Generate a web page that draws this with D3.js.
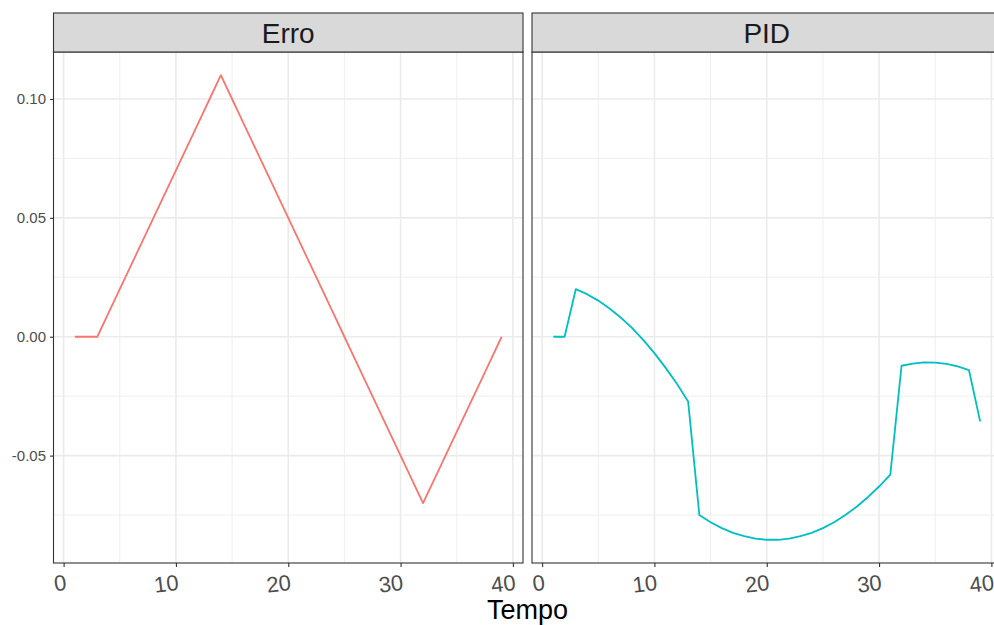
<!DOCTYPE html>
<head>
  <meta charset="utf-8">
  <script src="https://d3js.org/d3.v7.min.js"></script>
  <style>
    body{ margin: 0; background: #ffffff; }
    text{ font-family: "Liberation Sans", Arial, sans-serif; }
    .grid line.major{ stroke: #ebebeb; stroke-width: 1.6; }
    .grid line.minor{ stroke: #ebebeb; stroke-width: 0.8; }
    .yAxis text{ font-size: 15px; fill: #4d4d4d; }
    .xAxis text{ font-size: 22px; fill: #4d4d4d; }
    .tick line{ stroke: #333333; stroke-width: 1.1; }
    path.domain{ display: none; }
    text.strip{ font-size: 28px; fill: #1a1a1a; }
    text.axisTitle{ font-size: 27px; fill: #000000; }
  </style>
</head>
<body>
  <script>
    // data
    const tempo = [1,2,3,4,5,6,7,8,9,10,11,12,13,14,15,16,17,18,19,20,
                   21,22,23,24,25,26,27,28,29,30,31,32,33,34,35,36,37,38,39];
    const erro = [0,0,0,0.01,0.02,0.03,0.04,0.05,0.06,0.07,0.08,0.09,0.10,0.11,
                  0.10,0.09,0.08,0.07,0.06,0.05,0.04,0.03,0.02,0.01,0,
                  -0.01,-0.02,-0.03,-0.04,-0.05,-0.06,-0.07,
                  -0.06,-0.05,-0.04,-0.03,-0.02,-0.01,0];
    const pid = [0,0,0.0200,0.0179,0.0152,0.0119,0.0081,0.0037,-0.0013,-0.0069,
                 -0.0131,-0.0198,-0.0272,-0.0750,-0.0780,-0.0805,-0.0825,-0.0839,
                 -0.0849,-0.0854,-0.0854,-0.0849,-0.0839,-0.0825,-0.0805,-0.0780,
                 -0.0750,-0.0715,-0.0675,-0.0630,-0.0580,-0.0122,-0.0113,-0.0108,
                 -0.0109,-0.0114,-0.0125,-0.0140,-0.0356];
    const facets = ['Erro', 'PID'];
    const colours = ['#F8766D', '#00BFC4'];
    const xTicks = [0, 10, 20, 30, 40];
    const yTicks = [-0.05, 0, 0.05, 0.10];
    const xMinor = [5, 15, 25, 35];
    const yMinor = [-0.075, -0.025, 0.025, 0.075];

    var width = 994, height = 625;
    var svg = d3.select('body').append('svg')
      .attr('width', width)
      .attr('height', height);

    const stripTop = 13, panelTop = 52, panelBottom = 563;
    const panelLeft = [53.5, 532], panelW = 469.5;

    // ggplot style 5% expansion
    function expand(ext){
      let d = (ext[1]-ext[0])*0.05;
      return [ext[0]-d, ext[1]+d];
    }
    let xDom = expand(d3.extent(tempo));
    let yDom = expand(d3.extent(erro.concat(pid)));

    let y = d3.scaleLinear().domain(yDom).range([panelBottom, panelTop]);

    let series = [erro, pid];

    facets.forEach((name, i) => {
      let x = d3.scaleLinear().domain(xDom).range([panelLeft[i], panelLeft[i]+panelW]);
      let g = svg.append('g');

      let grid = g.append('g').attr('class', 'grid');
      grid.selectAll('line.yminor').data(yMinor).enter().append('line')
        .attr('class', 'minor')
        .attr('x1', x.range()[0]).attr('x2', x.range()[1])
        .attr('y1', d => y(d)).attr('y2', d => y(d));
      grid.selectAll('line.xminor').data(xMinor).enter().append('line')
        .attr('class', 'minor')
        .attr('x1', d => x(d)).attr('x2', d => x(d))
        .attr('y1', panelTop).attr('y2', panelBottom);
      grid.selectAll('line.ymajor').data(yTicks).enter().append('line')
        .attr('class', 'major')
        .attr('x1', x.range()[0]).attr('x2', x.range()[1])
        .attr('y1', d => y(d)).attr('y2', d => y(d));
      grid.selectAll('line.xmajor').data(xTicks).enter().append('line')
        .attr('class', 'major')
        .attr('x1', d => x(d)).attr('x2', d => x(d))
        .attr('y1', panelTop).attr('y2', panelBottom);

      // the series line
      let pts = tempo.map((t, k) => [t, series[i][k]]);
      g.append('path')
        .datum(pts)
        .attr('fill', 'none')
        .attr('stroke', colours[i])
        .attr('stroke-width', 1.8)
        .attr('stroke-linejoin', 'round')
        .attr('d', d3.line().x(d => x(d[0])).y(d => y(d[1])));

      // panel border
      g.append('rect')
        .attr('x', x.range()[0]).attr('y', panelTop)
        .attr('width', panelW).attr('height', panelBottom-panelTop)
        .attr('fill', 'none').attr('stroke', '#333333').attr('stroke-width', 1.1);

      // strip
      g.append('rect')
        .attr('x', x.range()[0]).attr('y', stripTop)
        .attr('width', panelW).attr('height', panelTop-stripTop)
        .attr('fill', '#d9d9d9').attr('stroke', '#333333').attr('stroke-width', 1.1);
      g.append('text')
        .attr('class', 'strip')
        .attr('x', x.range()[0]+panelW/2)
        .attr('y', 42.5)
        .style('text-anchor', 'middle')
        .text(name);

      // x axis
      let xAxis = g.append('g')
        .attr('class', 'xAxis')
        .attr('transform', `translate(0, ${panelBottom})`)
        .call(d3.axisBottom(x).tickValues(xTicks).tickSize(4).tickPadding(0));
      xAxis.selectAll('.tick text')
        .attr('y', 0).attr('dy', '0.72em')
        .style('text-anchor', 'end')
        .attr('transform', 'translate(1, 11) rotate(-7)');

      if (i == 0){
        g.append('g')
          .attr('class', 'yAxis')
          .attr('transform', `translate(${x.range()[0]}, 0)`)
          .call(d3.axisLeft(y).tickValues(yTicks).tickSize(3.5).tickPadding(4)
            .tickFormat(d => d3.format('.2f')(d).replace('\u2212', '-')));
      }
    });

    svg.append('text')
      .attr('class', 'axisTitle')
      .attr('x', (panelLeft[0]+panelLeft[1]+panelW)/2)
      .attr('y', 619)
      .style('text-anchor', 'middle')
      .text('Tempo');
  </script>
</body>
